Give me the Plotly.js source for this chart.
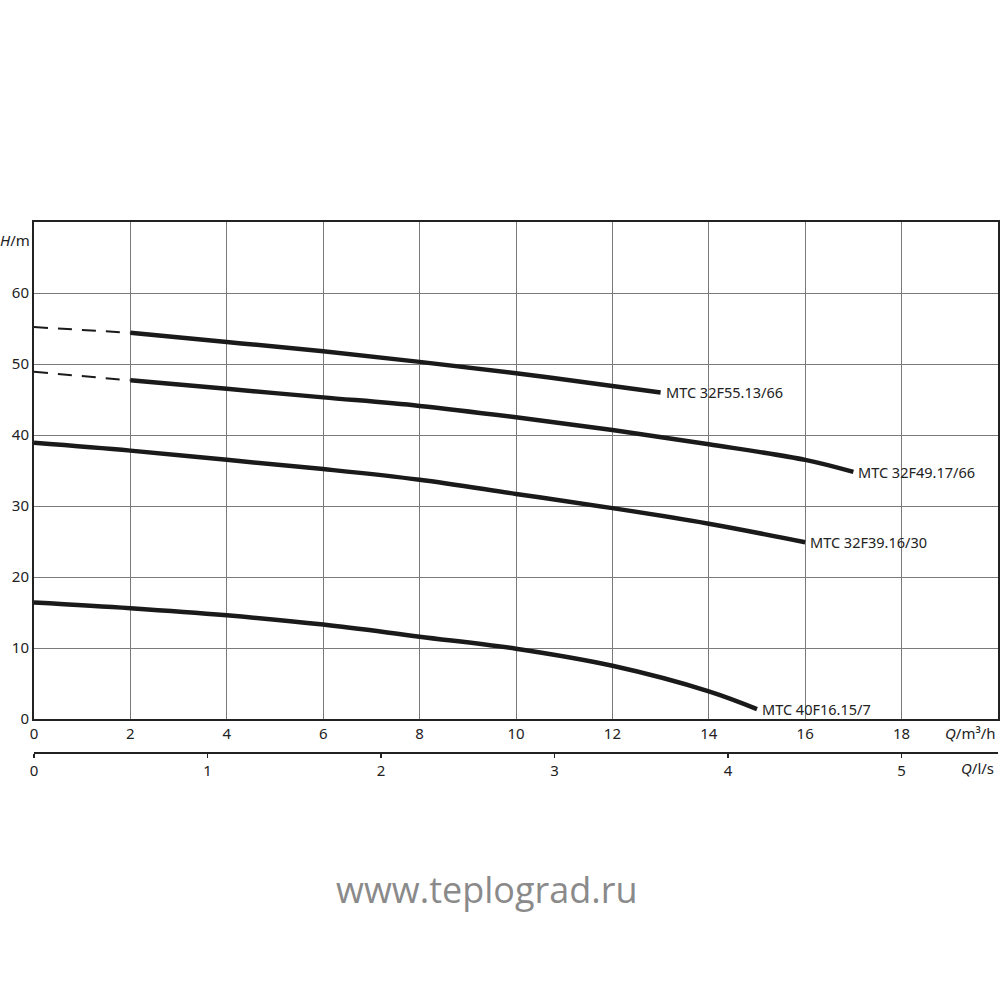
<!DOCTYPE html>
<html>
<head>
<meta charset="utf-8">
<script src="https://cdn.plot.ly/plotly-3.0.1.min.js"></script>
<style>html,body{margin:0;padding:0;background:#fff;}#chart{width:1000px;height:1000px;}</style>
</head>
<body>
<div id="chart"></div>
<script>
// Pump curves: Q in m³/h, H in m
const names = ["MTC 32F55.13/66", "MTC 32F49.17/66", "MTC 32F39.16/30", "MTC 40F16.15/7"];

const q1 = [2, 4, 6, 8, 10, 12, 13];
const h1 = [54.4, 53.1, 51.8, 50.3, 48.7, 46.9, 46.0];
const q1dash = [0, 2];
const h1dash = [55.2, 54.4];

const q2 = [2, 4, 6, 8, 10, 12, 14, 16, 17];
const h2 = [47.7, 46.5, 45.3, 44.1, 42.5, 40.7, 38.7, 36.5, 34.8];
const q2dash = [0, 2];
const h2dash = [48.9, 47.7];

const q3 = [0, 2, 4, 6, 8, 10, 12, 14, 16];
const h3 = [38.9, 37.8, 36.5, 35.2, 33.7, 31.7, 29.7, 27.5, 24.9];

const q4 = [0, 2, 4, 6, 8, 10, 12, 14, 15];
const h4 = [16.4, 15.6, 14.6, 13.3, 11.6, 9.9, 7.5, 3.9, 1.4];

const qTicks = [0, 2, 4, 6, 8, 10, 12, 14, 16, 18];
const hTicks = [0, 10, 20, 30, 40, 50, 60];
const lsTicks = [0, 1, 2, 3, 4, 5];

const FONT = "Noto Sans, Open Sans, sans-serif";
const lineCol = "#1a1a1a";

function solid(q, h) {
  return {x: q, y: h, type: "scatter", mode: "lines", hoverinfo: "skip",
    line: {color: lineCol, width: 4.5, shape: "spline", smoothing: 1}, showlegend: false};
}
function dashed(q, h) {
  return {x: q, y: h, type: "scatter", mode: "lines", hoverinfo: "skip",
    line: {color: lineCol, width: 2, dash: "14px,10px"}, showlegend: false};
}

const data = [
  dashed(q1dash, h1dash), solid(q1, h1),
  dashed(q2dash, h2dash), solid(q2, h2),
  solid(q3, h3), solid(q4, h4),
  // invisible helper so the l/s axis is drawn
  {x: lsTicks, y: lsTicks.map(() => 0), xaxis: "x2", yaxis: "y", type: "scatter", mode: "markers",
   marker: {opacity: 0, size: 1}, hoverinfo: "skip", showlegend: false}
];

const ends = [[q1, h1], [q2, h2], [q3, h3], [q4, h4]];
const annotations = ends.map((e, i) => ({
  x: e[0][e[0].length - 1], y: e[1][e[1].length - 1], xref: "x", yref: "y",
  text: names[i], showarrow: false, xanchor: "left", yanchor: "middle", xshift: 3,
  font: {family: FONT, size: 14.5, color: "#222"}
}));

annotations.push(
  {x: -0.02, y: 0.966, xref: "paper", yref: "paper", text: "<i>H</i>/m", showarrow: false,
   xanchor: "center", yanchor: "middle", font: {family: FONT, size: 15, color: "#222"}},
  {x: 0.971, y: 0.0377, xref: "paper", yref: "paper", text: "<i>Q</i>/m³/h", showarrow: false,
   xanchor: "center", yanchor: "middle", font: {family: FONT, size: 15, color: "#222"}},
  {x: 0.979, y: -0.028, xref: "paper", yref: "paper", text: "<i>Q</i>/l/s", showarrow: false,
   xanchor: "center", yanchor: "middle", font: {family: FONT, size: 15, color: "#222"}},
  {x: 0.47, y: -0.258, xref: "paper", yref: "paper", text: "www.teplograd.ru", showarrow: false,
   xanchor: "center", yanchor: "middle", font: {family: "Open Sans, Noto Sans, sans-serif", size: 36, color: "#8a8a8a"}}
);

const layout = {
  width: 1000, height: 1000,
  margin: {l: 34, r: 2, t: 222, b: 247, pad: 0},
  paper_bgcolor: "#fff", plot_bgcolor: "#fff",
  showlegend: false,
  font: {family: FONT, size: 15, color: "#222"},
  xaxis: {
    range: [0, 20], tickvals: qTicks, ticktext: qTicks.map(String),
    showgrid: true, gridcolor: "#7a7a7a", gridwidth: 1,
    zeroline: false, showline: true, linecolor: "#222", linewidth: 2, mirror: true,
    ticks: "", anchor: "y", tickfont: {family: FONT, size: 15, color: "#222"}
  },
  yaxis: {
    range: [0, 70], domain: [0.064, 1], tickvals: hTicks, ticktext: hTicks.map(String),
    showgrid: true, gridcolor: "#7a7a7a", gridwidth: 1,
    zeroline: false, showline: true, linecolor: "#222", linewidth: 2, mirror: true,
    ticks: "", tickfont: {family: FONT, size: 15, color: "#222"}
  },
  xaxis2: {
    overlaying: "x", anchor: "free", position: 0, side: "bottom",
    range: [0, 20 / 3.6], tickvals: lsTicks, ticktext: lsTicks.map(String),
    showgrid: false, zeroline: false, showline: true, linecolor: "#222", linewidth: 2,
    ticks: "outside", ticklen: 4, tickcolor: "#222", tickwidth: 1.5,
    tickfont: {family: FONT, size: 15, color: "#222"}
  },
  annotations: annotations
};

Plotly.newPlot("chart", data, layout, {staticPlot: true, displayModeBar: false});
</script>
</body>
</html>
